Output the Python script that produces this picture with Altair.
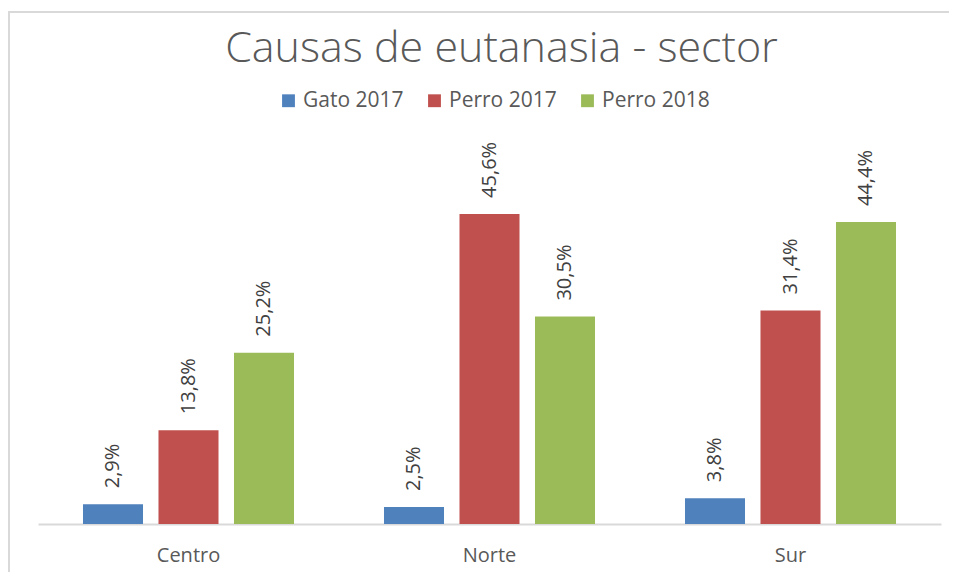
import altair as alt
import pandas as pd

sectors = ["Centro", "Norte", "Sur"]
series = ["Gato 2017", "Perro 2017", "Perro 2018"]
gato_2017 = [2.9, 2.5, 3.8]
perro_2017 = [13.8, 45.6, 31.4]
perro_2018 = [25.2, 30.5, 44.4]
colors = ["#4F81BD", "#C0504D", "#9BBB59"]

rows = []
for name, vals in zip(series, [gato_2017, perro_2017, perro_2018]):
    for s, v in zip(sectors, vals):
        rows.append({"sector": s, "serie": name, "valor": v,
                     "etiqueta": f"{v:.1f}%".replace(".", ",")})
df = pd.DataFrame(rows)

FONT = "Open Sans"

base = alt.Chart(df).encode(
    x=alt.X("sector:N", sort=sectors,
            scale=alt.Scale(paddingInner=0, paddingOuter=0),
            axis=alt.Axis(title=None, labelAngle=0, ticks=False,
                          domainColor="#D9D9D9", domainWidth=2,
                          labelFont=FONT, labelFontSize=20,
                          labelColor="#595959", labelPadding=21)),
    xOffset=alt.XOffset("serie:N", sort=series,
                        scale=alt.Scale(paddingInner=0.205, paddingOuter=0.596)),
    y=alt.Y("valor:Q", scale=alt.Scale(domain=[0, 50]), axis=None),
)

bars = base.mark_bar().encode(
    color=alt.Color("serie:N", sort=series,
                    scale=alt.Scale(domain=series, range=colors),
                    legend=alt.Legend(title=None, orient="none", direction="horizontal",
                                      legendX=240, legendY=-94,
                                      symbolType="square", symbolSize=165,
                                      symbolStrokeWidth=0,
                                      labelFont=FONT, labelFontSize=21,
                                      labelColor="#595959", labelOffset=4,
                                      columnPadding=20))
)

labels = base.mark_text(angle=270, align="left", baseline="middle", dx=16,
                        font=FONT, fontSize=20, color="#404040").encode(
    text="etiqueta:N"
)

border = alt.Chart(df).mark_rect(fill=None, stroke="#D9D9D9", strokeWidth=2).encode(
    x=alt.value(-29), x2=alt.value(960), y=alt.value(-172), y2=alt.value(420)
)

chart = alt.layer(border, bars, labels).properties(
    width=903, height=340,
    autosize=alt.AutoSizeParams(type="none"),
    padding={"left": 30, "top": 176, "right": 8, "bottom": 48},
    title=alt.TitleParams("Causas de eutanasia - sector", font=FONT, fontSize=43,
                          fontWeight=300, color="#595959", anchor="middle",
                          offset=-60, dx=12),
).configure_view(stroke=None)

chart.save("out.html", embed_options={"renderer": "svg", "actions": False})
